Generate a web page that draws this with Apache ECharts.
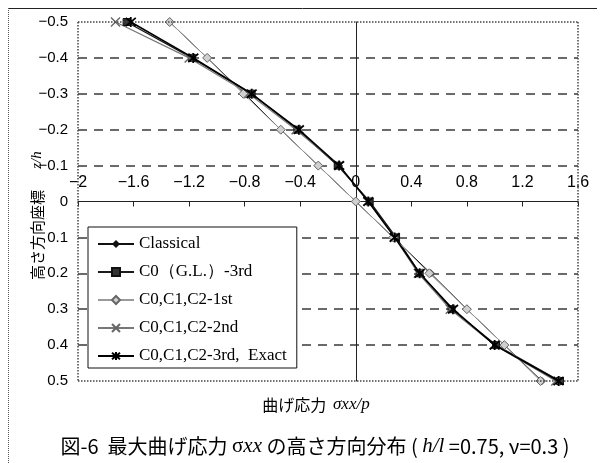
<!DOCTYPE html>
<html>
<head>
<meta charset="utf-8">
<script src="https://cdn.jsdelivr.net/npm/echarts@6/dist/echarts.min.js"></script>
<style>
  html, body { margin: 0; padding: 0; background: #fff; }
  #chart { width: 604px; height: 463px; }
</style>
</head>
<body>
<div id="chart"></div>
<script>
// Height coordinate z/h (vertical axis, -0.5 at top)
const zLevels = [-0.5, -0.4, -0.3, -0.2, -0.1, 0, 0.1, 0.2, 0.3, 0.4, 0.5];

// Bending stress sigma_xx/p at each height, per theory
const classical   = [-1.34, -1.07, -0.80, -0.54, -0.27, 0, 0.27, 0.54, 0.80, 1.07, 1.34];
const c0GlThird   = [-1.65, -1.18, -0.75, -0.42, -0.13, 0.10, 0.29, 0.46, 0.69, 1.01, 1.47];
const c012First   = [-1.34, -1.07, -0.81, -0.54, -0.27, 0, 0.27, 0.53, 0.80, 1.07, 1.33];
const c012Second  = [-1.73, -1.20, -0.77, -0.43, -0.12, 0.09, 0.28, 0.45, 0.68, 1.00, 1.44];
const c012Exact   = [-1.62, -1.17, -0.75, -0.41, -0.12, 0.09, 0.28, 0.46, 0.70, 1.00, 1.46];

const seriesNames = ['Classical', 'C0（G.L.）-3rd', 'C0,C1,C2-1st', 'C0,C1,C2-2nd', 'C0,C1,C2-3rd,  Exact'];

// Axis ticks
const xMin = -2, xMax = 1.6, xStep = 0.4;
const zMin = -0.5, zMax = 0.5, zStep = 0.1;

// Plot box (pixels)
const gridTop = 22, gridBottom = 82, chartH = 463;
const plotH = chartH - gridTop - gridBottom;

const pairs = (vals) => vals.map((v, i) => [v, zLevels[i]]);
const minus = (s) => s.replace('-', '\u2212');

const crossSym = 'path://M0,0L10,10M10,0L0,10';
const starSym = 'path://M0,0L10,10M10,0L0,10M5,-1L5,11';

const chart = echarts.init(document.getElementById('chart'), null, { renderer: 'canvas' });

// Dashed grid lines at every step except the frame edges and z = 0 (axis line)
const gridLineColors = [];
for (let i = 0; i <= Math.round((zMax - zMin) / zStep); i++) {
  const v = zMin + i * zStep;
  const edgeOrZero = Math.abs(v) < 1e-9 || i === 0 || Math.abs(v - zMax) < 1e-9;
  gridLineColors.push(edgeOrZero ? 'rgba(0,0,0,0)' : '#3a3a3a');
}

// Horizontal axis sits at z = 0, labels above it
const zeroOffset = -plotH * (0 - zMin) / (zMax - zMin);

chart.setOption({
  animation: false,
  backgroundColor: '#fff',
  grid: { left: 78, right: 26, top: gridTop, bottom: gridBottom },
  xAxis: {
    type: 'value',
    min: xMin, max: xMax, interval: xStep,
    position: 'top',
    offset: zeroOffset,
    axisLine: { show: true, onZero: false, lineStyle: { color: '#222', width: 1 } },
    axisTick: { show: true, inside: true, length: 5, lineStyle: { color: '#222' } },
    axisLabel: {
      margin: 11,
      color: '#000',
      fontFamily: 'Liberation Sans, Arial, sans-serif',
      fontSize: 16,
      formatter: (v) => minus(String(Math.round(v * 10) / 10))
    },
    splitLine: { show: false }
  },
  yAxis: {
    type: 'value',
    inverse: true,
    min: zMin, max: zMax, interval: zStep,
    axisLine: { show: true, onZero: true, lineStyle: { color: '#222', width: 1 } },
    axisTick: { show: false },
    axisLabel: {
      margin: 10,
      color: '#000',
      fontFamily: 'Liberation Sans, Arial, sans-serif',
      fontSize: 15,
      formatter: (v) => {
        const r = Math.round(v * 10) / 10;
        return r === 0 ? '0' : minus(r.toFixed(1));
      }
    },
    splitLine: {
      show: true,
      lineStyle: { color: gridLineColors, type: [9, 7], width: 1.5 }
    }
  },
  legend: {
    orient: 'vertical',
    left: 88, top: 227,
    padding: [8, 10, 3, 9],
    itemWidth: 36, itemHeight: 10, itemGap: 10,
    backgroundColor: '#fff',
    borderColor: '#111', borderWidth: 1,
    textStyle: { fontFamily: 'Liberation Serif, Times New Roman, serif', fontSize: 17, color: '#000', lineHeight: 18 },
    data: seriesNames
  },
  graphic: [
    { type: 'line', shape: { x1: 8, y1: 8.5, x2: 597, y2: 8.5 }, style: { stroke: '#222', lineWidth: 1 } },
    { type: 'line', shape: { x1: 8.5, y1: 8, x2: 8.5, y2: 463 }, style: { stroke: '#555', lineWidth: 1, lineDash: [1, 1] } },
    {
      type: 'text', x: 316, y: 405,
      style: {
        text: '{a|曲げ応力}  {b|σxx/p}',
        textAlign: 'center', textVerticalAlign: 'middle',
        rich: {
          a: { fontFamily: 'Noto Sans CJK JP', fontSize: 16, fill: '#000' },
          b: { fontFamily: 'Liberation Serif, serif', fontStyle: 'italic', fontSize: 17, fill: '#000' }
        }
      }
    },
    {
      type: 'text', x: 37, y: 235, rotation: Math.PI / 2,
      style: {
        text: '高さ方向座標',
        textAlign: 'center', textVerticalAlign: 'middle',
        fontFamily: 'Noto Sans CJK JP', fontSize: 15, fill: '#000'
      }
    },
    {
      type: 'text', x: 37, y: 160, rotation: Math.PI / 2,
      style: {
        text: 'z/h',
        textAlign: 'center', textVerticalAlign: 'middle',
        fontFamily: 'Liberation Serif, serif', fontStyle: 'italic', fontSize: 15, fill: '#000'
      }
    },
    {
      type: 'text', x: 315, y: 446,
      style: {
        text: '{a|図-6  最大曲げ応力 }{s|σ}{i|xx}{a| の高さ方向分布 ( }{i|h/l}{a| =0.75, ν=0.3 )}',
        textAlign: 'center', textVerticalAlign: 'middle',
        rich: {
          a: { fontFamily: 'Noto Sans CJK JP', fontSize: 20, fill: '#000' },
          s: { fontFamily: 'Liberation Serif, serif', fontSize: 21, fill: '#000' },
          i: { fontFamily: 'Liberation Serif, serif', fontStyle: 'italic', fontSize: 21, fill: '#000' }
        }
      }
    }
  ],
  series: [
    {
      name: seriesNames[0], type: 'line', data: pairs(classical),
      symbol: 'diamond', symbolSize: 8,
      lineStyle: { color: '#111', width: 1 },
      itemStyle: { color: '#111' },
      z: 2,
      markLine: {
        silent: true, symbol: 'none', label: { show: false },
        lineStyle: { color: '#444', type: 'dotted', width: 1.5 },
        data: [{ yAxis: zMin }, { yAxis: zMax }, { xAxis: xMin }, { xAxis: xMax }]
      }
    },
    {
      name: seriesNames[1], type: 'line', data: pairs(c0GlThird),
      symbol: 'rect', symbolSize: 7,
      lineStyle: { color: '#1a1a1a', width: 1.4 },
      itemStyle: { color: '#333', borderColor: '#111', borderWidth: 1 },
      z: 3
    },
    {
      name: seriesNames[2], type: 'line', data: pairs(c012First),
      symbol: 'diamond', symbolSize: 9,
      lineStyle: { color: '#9a9a9a', width: 1 },
      itemStyle: { color: '#d0d0d0', borderColor: '#666', borderWidth: 1 },
      z: 4
    },
    {
      name: seriesNames[3], type: 'line', data: pairs(c012Second),
      symbol: crossSym, symbolSize: 9,
      lineStyle: { color: '#777', width: 1.2 },
      itemStyle: { color: 'rgba(0,0,0,0)', borderColor: '#666', borderWidth: 1.4 },
      z: 3
    },
    {
      name: seriesNames[4], type: 'line', data: pairs(c012Exact),
      symbol: starSym, symbolSize: 10,
      lineStyle: { color: '#000', width: 1.6 },
      itemStyle: { color: 'rgba(0,0,0,0)', borderColor: '#000', borderWidth: 1.8 },
      z: 5
    }
  ]
});
</script>
</body>
</html>
